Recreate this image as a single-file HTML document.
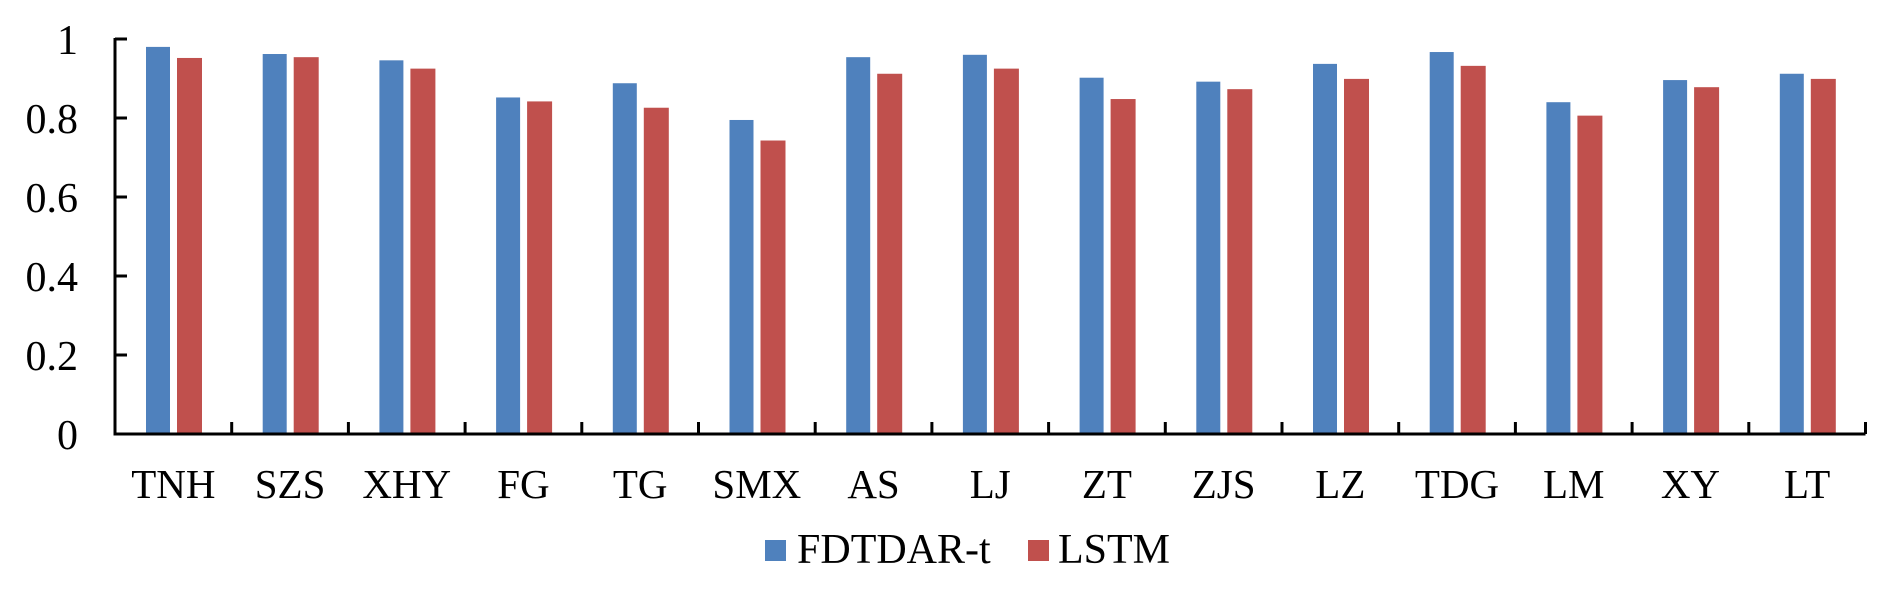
<!DOCTYPE html>
<html><head><meta charset="utf-8"><style>
html,body{margin:0;padding:0;background:#fff;}
svg text{font-family:"Liberation Serif",serif;fill:#000;}
</style></head><body>
<svg id="chart" width="1892" height="594" xmlns="http://www.w3.org/2000/svg">
<g id="bars"></g>
<g id="axes"></g>
<g id="legend">
  <rect x="765" y="540" width="21" height="21" fill="#4f81bd"/>
  <text x="797" y="563" font-size="42">FDTDAR-t</text>
  <rect x="1028" y="540" width="21" height="21" fill="#c0504d"/>
  <text x="1058" y="563" font-size="42">LSTM</text>
</g>
</svg>
<script>
const categories = ["TNH","SZS","XHY","FG","TG","SMX","AS","LJ","ZT","ZJS","LZ","TDG","LM","XY","LT"];
const fdtdar = [0.980,0.962,0.946,0.852,0.888,0.795,0.954,0.960,0.902,0.892,0.937,0.967,0.840,0.896,0.912];
const lstm = [0.952,0.954,0.925,0.842,0.826,0.743,0.912,0.925,0.848,0.873,0.899,0.932,0.806,0.878,0.899];
const yTicks = [0,0.2,0.4,0.6,0.8,1];
const yTickLabels = ["0","0.2","0.4","0.6","0.8","1"];

const NS = "http://www.w3.org/2000/svg";
const X0 = 115, GW = 116.7, Y0 = 434, YH = 395;
const y = v => Y0 - v * YH;
const xg = i => X0 + i * GW;
function mk(tag, attrs, parent){const e=document.createElementNS(NS,tag);for(const k in attrs)e.setAttribute(k,attrs[k]);parent.appendChild(e);return e;}
const bars = document.getElementById('bars');
const axes = document.getElementById('axes');
categories.forEach((c,i)=>{
  const b = mk('rect',{x:xg(i)+31,y:y(fdtdar[i]),width:24,height:Y0-y(fdtdar[i]),fill:'#4f81bd'},bars);
  
  
  const r = mk('rect',{x:xg(i)+62,y:y(lstm[i]),width:25,height:Y0-y(lstm[i]),fill:'#c0504d'},bars);
  
  
  const t = mk('text',{x:xg(i)+GW/2,y:498,'font-size':41,'text-anchor':'middle'},axes);
  t.textContent = c;
  
  
});
const yl = mk('line',{x1:X0,y1:y(1)-1,x2:X0,y2:Y0+1.5,stroke:'#000','stroke-width':3},axes);


const xl = mk('line',{x1:X0-1.5,y1:Y0,x2:xg(categories.length),y2:Y0,stroke:'#000','stroke-width':3},axes);


for(let i=1;i<=categories.length;i++){
  const tk = mk('line',{x1:xg(i),y1:Y0,x2:xg(i),y2:Y0-12,stroke:'#000','stroke-width':3},axes);
  
  
}
yTicks.forEach((v,i)=>{
  if(v>0){
    const tk = mk('line',{x1:X0,y1:y(v),x2:X0+12,y2:y(v),stroke:'#000','stroke-width':3},axes);
    
    
  }
  const t = mk('text',{x:78,y:y(v)+15,'font-size':42,'text-anchor':'end'},axes);
  t.textContent = yTickLabels[i];
  
  
});
</script>
</body></html>
